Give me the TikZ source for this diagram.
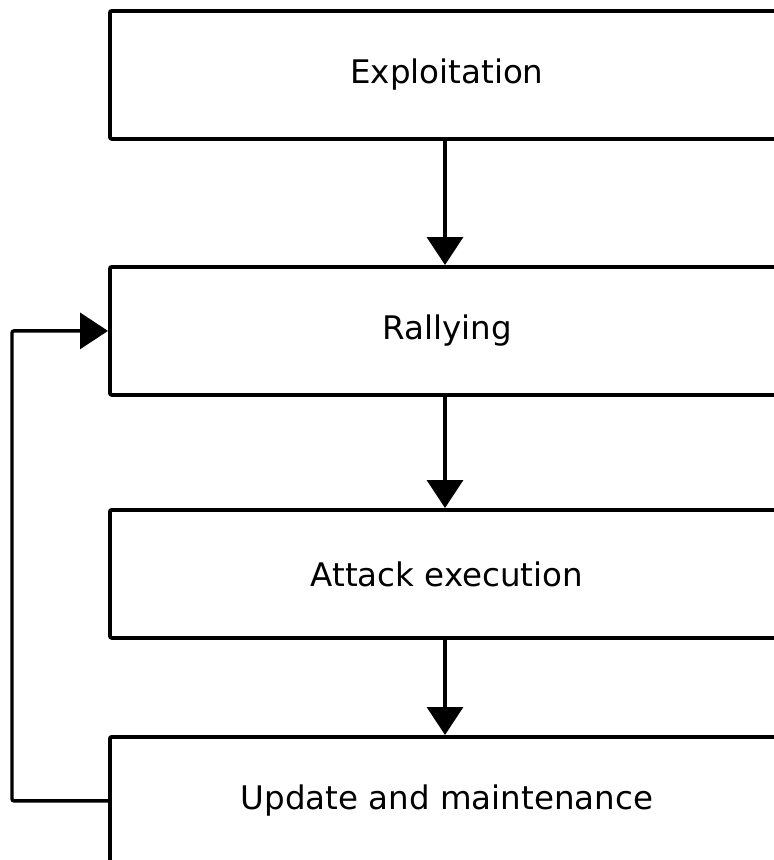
\documentclass[tikz,border=0pt]{standalone}
\usepackage{fontspec}
\setmainfont{DejaVu Sans}
\usetikzlibrary{arrows.meta}
\begin{document}
\begin{tikzpicture}[x=1pt,y=-1pt,
  stage/.style={draw=black, line width=3.8pt, rounded corners=2pt, fill=white,
    minimum width=674pt, minimum height=128pt, anchor=north west,
    font=\fontsize{32.5}{38}\selectfont, inner sep=0pt},
  flow/.style={line width=3.4pt, -{Triangle[length=28pt 0 1, width=36pt 0 1]}}]
\useasboundingbox (0,0) rectangle (774,860);
\node[stage] (s1) at (108,9)   {Exploitation};
\node[stage] (s2) at (108,265) {Rallying};
\node[stage] (s3) at (108,508) {Attack execution};
\node[stage] (s4) at (108,735) {Update and maintenance};
\draw[flow] (s1.south -| 445,0) -- (s2.north -| 445,0);
\draw[flow] (s2.south -| 445,0) -- (s3.north -| 445,0);
\draw[flow] (s3.south -| 445,0) -- (s4.north -| 445,0);
\coordinate (back) at (12,0);
\draw[flow, rounded corners=2pt] (s4.west) -| (back |- s4.west) -- (back |- s2.west) -- (s2.west);
\end{tikzpicture}
\end{document}
